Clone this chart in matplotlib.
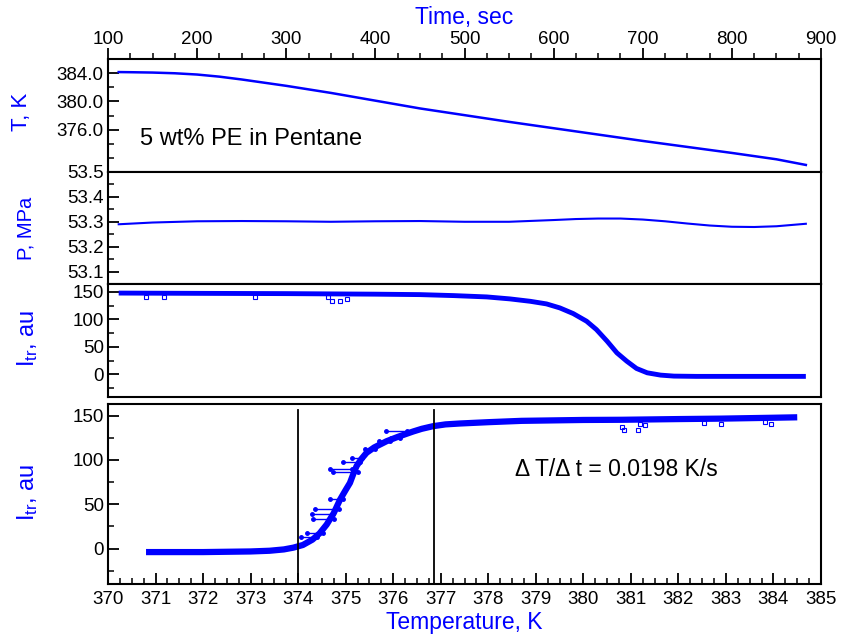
import matplotlib
matplotlib.use("Agg")
import matplotlib.pyplot as plt
from matplotlib.ticker import MultipleLocator, FixedLocator, FormatStrFormatter

plt.rcParams['font.family'] = ['Liberation Sans', 'DejaVu Sans']
plt.rcParams['mathtext.fontset'] = 'custom'
plt.rcParams['mathtext.rm'] = 'Liberation Sans'
plt.rcParams['mathtext.it'] = 'Liberation Sans:italic'

BLUE = '#0000ff'

# ---- data: time series ----
time_T = [112, 125, 150, 175, 200, 225, 250, 275, 300, 350, 400, 450, 500, 550, 600, 650,
          700, 750, 800, 850, 883]
temp_T = [384.15, 384.13, 384.08, 383.98, 383.8, 383.5, 383.1, 382.65, 382.2, 381.2, 380.1,
          379.0, 378.05, 377.1, 376.2, 375.3, 374.4, 373.55, 372.7, 371.8, 371.0]

time_P = [112, 150, 200, 250, 300, 350, 400, 450, 500, 550, 600, 625, 650, 675, 700, 725,
          750, 775, 800, 825, 850, 883]
pres_P = [53.290, 53.297, 53.302, 53.303, 53.302, 53.300, 53.302, 53.303, 53.300, 53.300,
          53.307, 53.311, 53.313, 53.313, 53.309, 53.302, 53.293, 53.285, 53.280, 53.279,
          53.282, 53.292]

time_I = [112, 200, 300, 400, 450, 488, 525, 551, 574, 592, 607, 622, 637, 648, 660, 671,
          682, 693, 705, 720, 735, 760, 800, 883]
inten_I = [148, 147.5, 147, 146, 145.2, 143.4, 141, 137.4, 133, 128.3, 121, 110.7, 96.8,
           81.7, 60.5, 39.3, 24.2, 10.9, 3, -1.2, -3, -3.5, -3.5, -3.5]

time_out = [143, 163, 265, 347, 351, 360, 368]
inten_out = [141, 140, 140, 140, 134, 134, 137]

# ---- data: intensity vs temperature ----
temp_I = [370.8, 372.0, 373.0, 373.4, 373.7, 373.9, 374.1, 374.3, 374.45, 374.6, 374.75,
          374.88, 375.0, 375.09, 375.16, 375.23, 375.33, 375.44, 375.6, 375.86, 376.1,
          376.42, 376.6, 376.84, 377.1, 377.4, 378.0, 378.7, 380.0, 380.8, 382.0, 382.9,
          384.0, 384.5]
inten_T = [-4, -4, -3.3, -2.5, -1, 1, 4, 10, 17, 27, 40, 55, 66, 74, 84, 93, 101, 108, 114,
           121, 126, 132, 135, 138, 140, 141, 142.5, 144, 145, 145.2, 146, 146.5, 147.5, 148]

# noisy excursions in transition region: (T start, T end, I)
seg_T0 = [374.66, 374.74, 374.95, 375.13, 375.71, 375.85, 374.66, 374.36, 374.29, 374.32,
          374.18, 374.07, 375.40, 375.95]
seg_T1 = [375.13, 375.26, 375.30, 375.34, 375.93, 376.28, 374.95, 374.85, 374.74, 374.76,
          374.53, 374.39, 375.62, 376.15]
seg_I = [90, 86, 97.5, 102, 121, 132, 56, 45, 39, 33, 18, 13, 112, 125]

temp_out = [380.81, 380.86, 381.14, 381.2, 381.3, 382.53, 382.9, 383.83, 383.94]
inten_out2 = [137, 133.5, 134, 141, 139, 142, 140, 143, 140]

onset_lines = [374.0, 376.85]

# ---- figure ----
W, H = 841, 638
fig = plt.figure(figsize=(W / 100, H / 100), dpi=100)

def axrect(x0, y0, x1, y1):
    return [x0 / W, 1 - y1 / H, (x1 - x0) / W, (y1 - y0) / H]

axT = fig.add_axes(axrect(108, 59, 821, 172))
axP = fig.add_axes(axrect(108, 172, 821, 284))
axI = fig.add_axes(axrect(108, 284, 821, 397))
axB = fig.add_axes(axrect(108, 404, 821, 584))

TICK_FS = 13.5
for ax in (axT, axP, axI, axB):
    for s in ax.spines.values():
        s.set_linewidth(1.5)
    ax.tick_params(axis='both', which='major', direction='in', length=8, width=1.3,
                   labelsize=TICK_FS, pad=3)
    ax.tick_params(axis='both', which='minor', direction='in', length=4.5, width=1.1)
    ax.tick_params(right=False, which='both')

# T panel
axT.plot(time_T, temp_T, color=BLUE, lw=1.8)
axT.set_xlim(100, 900)
axT.set_ylim(370, 386)
axT.yaxis.set_major_locator(FixedLocator([376, 380, 384]))
axT.yaxis.set_minor_locator(FixedLocator([372, 374, 378, 382]))
axT.yaxis.set_major_formatter(FormatStrFormatter('%.1f'))
axT.xaxis.tick_top()
axT.xaxis.set_label_position('top')
axT.xaxis.set_major_locator(MultipleLocator(100))
axT.xaxis.set_minor_locator(MultipleLocator(25))
axT.tick_params(axis='x', which='major', direction='out', length=8, pad=0, bottom=False)
axT.tick_params(axis='x', which='minor', direction='out', length=4.5, bottom=False)
axT.set_xlabel('Time, sec', color=BLUE, fontsize=16.5, labelpad=5)
axT.text(136, 374.7, '5 wt% PE in Pentane', fontsize=17, va='center', ha='left')

# P panel
axP.plot(time_P, pres_P, color=BLUE, lw=1.5)
axP.set_xlim(100, 900)
axP.set_ylim(53.05, 53.5)
axP.yaxis.set_major_locator(MultipleLocator(0.1))
axP.yaxis.set_minor_locator(MultipleLocator(0.05))
axP.yaxis.set_major_formatter(FormatStrFormatter('%.1f'))
axP.tick_params(axis='x', which='both', bottom=False, labelbottom=False)

# I(t) panel
axI.plot(time_I, inten_I, color=BLUE, lw=3.5, solid_capstyle='butt')
axI.plot(time_out, inten_out, 's', color=BLUE, ms=2.5, mfc='none', mew=0.8)
axI.set_xlim(100, 900)
axI.set_ylim(-41, 164.5)
axI.yaxis.set_major_locator(MultipleLocator(50))
axI.yaxis.set_minor_locator(MultipleLocator(25))
axI.tick_params(axis='x', which='both', bottom=False, labelbottom=False)

# I(T) panel
axB.plot(temp_I, inten_T, color=BLUE, lw=4.5, solid_capstyle='butt')
for t0, t1, iv in zip(seg_T0, seg_T1, seg_I):
    axB.plot([t0, t1], [iv, iv], '-o', color=BLUE, lw=1, ms=2.5)
axB.plot(temp_out, inten_out2, 's', color=BLUE, ms=2.5, mfc='none', mew=0.8)
for tv in onset_lines:
    axB.plot([tv, tv], [-40, 156], color='black', lw=1.3)
axB.set_xlim(370, 385)
axB.set_ylim(-40, 163)
axB.xaxis.set_major_locator(MultipleLocator(1))
axB.xaxis.set_minor_locator(MultipleLocator(0.25))
axB.yaxis.set_major_locator(MultipleLocator(50))
axB.yaxis.set_minor_locator(MultipleLocator(25))
axB.tick_params(axis='x', which='major', pad=5, top=False)
axB.tick_params(axis='x', which='minor', top=False)
axB.set_xlabel('Temperature, K', color=BLUE, fontsize=16.5, labelpad=2)
axB.text(380.7, 89, '\u0394 T/\u0394 t = 0.0198 K/s', fontsize=16.5, ha='center', va='center')

# y labels
fig.text(22 / W, 1 - 112 / H, 'T, K', color=BLUE, fontsize=16, rotation=90, ha='center', va='center')
fig.text(26 / W, 1 - 228 / H, 'P, MPa', color=BLUE, fontsize=14.5, rotation=90, ha='center', va='center')
fig.text(28 / W, 1 - 338 / H, r'I$_{\mathrm{tr}}$, au', color=BLUE, fontsize=17, rotation=90, ha='center', va='center')
fig.text(28 / W, 1 - 492 / H, r'I$_{\mathrm{tr}}$, au', color=BLUE, fontsize=17, rotation=90, ha='center', va='center')

fig.savefig('out.png', dpi=100)
